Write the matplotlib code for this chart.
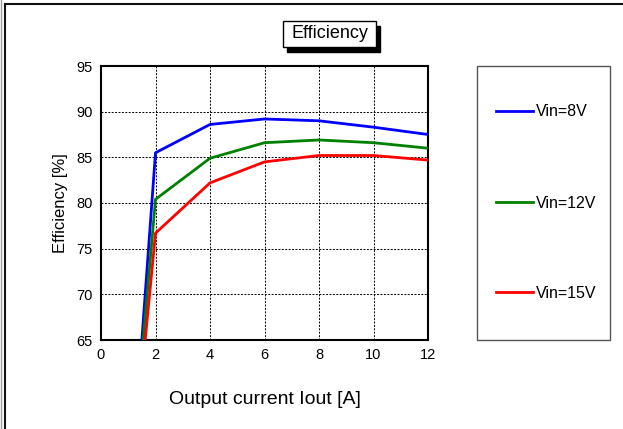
import matplotlib.pyplot as plt
from matplotlib.patches import Rectangle
from matplotlib.lines import Line2D

# dados
iout = [1, 2, 4, 6, 8, 10, 12]
eff_8v = [44.5, 85.5, 88.6, 89.2, 89.0, 88.3, 87.5]
eff_12v = [46.3, 80.4, 84.9, 86.6, 86.9, 86.6, 86.0]
eff_15v = [45.8, 76.7, 82.2, 84.5, 85.2, 85.2, 84.7]
labels = ['Vin=8V', 'Vin=12V', 'Vin=15V']
cores = ['#0000ff', '#008000', '#ff0000']

plt.rcParams['font.family'] = ['Liberation Sans', 'DejaVu Sans']

W, H = 623, 429
fig = plt.figure(figsize=(W / 100, H / 100), dpi=100)

def fx(px):
    return px / W

def fy(py):
    return 1 - py / H

ax = fig.add_axes([fx(101), fy(340), fx(428) - fx(101), fy(66) - fy(340)])
for y, c, l in zip([eff_8v, eff_12v, eff_15v], cores, labels):
    ax.plot(iout, y, color=c, lw=2, label=l, zorder=3)

ax.set_xlim(0, 12)
ax.set_ylim(65, 95)
ax.set_xticks(range(0, 13, 2))
ax.set_yticks(range(65, 96, 5))
ax.grid(True, color='black', ls=(0, (2, 1.5)), lw=0.7)
ax.tick_params(length=0, labelsize=10.5, pad=6)
for s in ax.spines.values():
    s.set_linewidth(1.5)
    s.set_color('black')
ax.set_ylabel('Efficiency [%]', fontsize=12, labelpad=6)
ax.set_xlabel('Output current Iout [A]', fontsize=14, labelpad=21)

# caixa da legenda
fig.patches.append(Rectangle((fx(477), fy(340)), fx(610) - fx(477), fy(66) - fy(340),
                             transform=fig.transFigure, fill=False, edgecolor='#555555', lw=1))
handles = [Line2D([], [], color=c, lw=2) for c in cores]
for i, (h, l) in enumerate(zip(handles, labels)):
    fig.legend([h], [l], loc='center left', bbox_to_anchor=(fx(482), fy([112, 203, 293][i])),
               frameon=False, handlelength=2.3, handletextpad=0.15,
               prop={'size': 11.5})

# título com sombra
fig.patches.append(Rectangle((fx(287), fy(52)), fx(380) - fx(287), fy(26) - fy(52),
                             transform=fig.transFigure, facecolor='black', edgecolor='black'))
fig.patches.append(Rectangle((fx(283), fy(47)), fx(376) - fx(283), fy(21) - fy(47),
                             transform=fig.transFigure, facecolor='white', edgecolor='black', lw=1))
fig.text(fx(329.5), fy(34), 'Efficiency', ha='center', va='center', fontsize=13)

# moldura
fig.lines.append(Line2D([fx(5), 1], [fy(4), fy(4)], transform=fig.transFigure, color='#111111', lw=1.5))
fig.lines.append(Line2D([fx(5), fx(5)], [fy(4), 0], transform=fig.transFigure, color='#111111', lw=1.5))
fig.lines.append(Line2D([fx(0.5), fx(0.5)], [1, 0], transform=fig.transFigure, color='#999999', lw=1))

plt.savefig('out.png', dpi=100)
